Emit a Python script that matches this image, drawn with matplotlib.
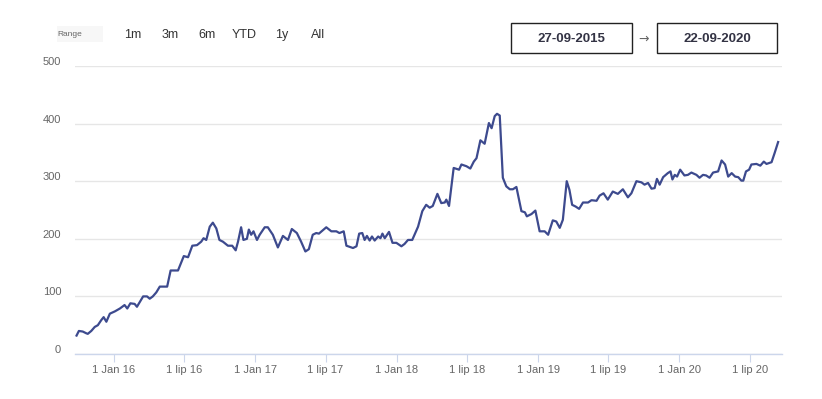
import numpy as np
import pandas as pd
import matplotlib
matplotlib.use('Agg')
import matplotlib.pyplot as plt
from matplotlib.patches import Rectangle
from matplotlib.transforms import ScaledTranslation

plt.rcParams['font.family'] = ['Liberation Sans', 'DejaVu Sans']

# price trace
dates = [
    '2015-09-27', '2015-10-03', '2015-10-13', '2015-10-22', '2015-10-26', '2015-11-04',
    '2015-11-13', '2015-11-21', '2015-11-30', '2015-12-06', '2015-12-13', '2015-12-22',
    '2016-01-04', '2016-01-17', '2016-01-29', '2016-02-05', '2016-02-13', '2016-02-24',
    '2016-03-01', '2016-03-08', '2016-03-17', '2016-03-27', '2016-04-03', '2016-04-11',
    '2016-04-20', '2016-04-29', '2016-05-18', '2016-05-27', '2016-06-15', '2016-06-30',
    '2016-07-11', '2016-07-22', '2016-08-03', '2016-08-14', '2016-08-20', '2016-08-27',
    '2016-09-05', '2016-09-13', '2016-09-22', '2016-09-30', '2016-10-09', '2016-10-22',
    '2016-11-02', '2016-11-11', '2016-11-17', '2016-11-25', '2016-12-01', '2016-12-10',
    '2016-12-15', '2016-12-21', '2016-12-27', '2017-01-05', '2017-01-12', '2017-01-25',
    '2017-02-02', '2017-02-15', '2017-02-28', '2017-03-13', '2017-03-26', '2017-04-05',
    '2017-04-18', '2017-04-29', '2017-05-10', '2017-05-19', '2017-05-29', '2017-06-07',
    '2017-06-14', '2017-07-03', '2017-07-16', '2017-07-29', '2017-08-06', '2017-08-17',
    '2017-08-24', '2017-09-10', '2017-09-19', '2017-09-26', '2017-10-04', '2017-10-10',
    '2017-10-16', '2017-10-23', '2017-10-29', '2017-11-05', '2017-11-14', '2017-11-20',
    '2017-11-25', '2017-12-01', '2017-12-12', '2017-12-21', '2017-12-31', '2018-01-13',
    '2018-01-21', '2018-01-30', '2018-02-10', '2018-02-25', '2018-03-08', '2018-03-18',
    '2018-03-27', '2018-04-04', '2018-04-16', '2018-04-26', '2018-05-05', '2018-05-09',
    '2018-05-16', '2018-05-28', '2018-06-11', '2018-06-17', '2018-06-30', '2018-07-10',
    '2018-07-19', '2018-07-26', '2018-08-05', '2018-08-16', '2018-08-27', '2018-09-03',
    '2018-09-11', '2018-09-17', '2018-09-24', '2018-10-02', '2018-10-11', '2018-10-20',
    '2018-10-28', '2018-11-06', '2018-11-19', '2018-11-28', '2018-12-03', '2018-12-15',
    '2018-12-25', '2019-01-05', '2019-01-18', '2019-01-27', '2019-02-08', '2019-02-17',
    '2019-02-26', '2019-03-06', '2019-03-16', '2019-03-23', '2019-03-30', '2019-04-08',
    '2019-04-17', '2019-04-27', '2019-05-10', '2019-05-19', '2019-06-01', '2019-06-09',
    '2019-06-19', '2019-06-30', '2019-07-13', '2019-07-26', '2019-08-08', '2019-08-21',
    '2019-08-30', '2019-09-12', '2019-09-25', '2019-10-03', '2019-10-12', '2019-10-21',
    '2019-10-29', '2019-11-04', '2019-11-11', '2019-11-20', '2019-12-02', '2019-12-09',
    '2019-12-14', '2019-12-20', '2019-12-26', '2020-01-03', '2020-01-14', '2020-01-23',
    '2020-02-01', '2020-02-14', '2020-02-22', '2020-03-02', '2020-03-10', '2020-03-19',
    '2020-03-28', '2020-04-10', '2020-04-19', '2020-04-28', '2020-05-06', '2020-05-15',
    '2020-05-24', '2020-06-01', '2020-06-09', '2020-06-14', '2020-06-21', '2020-06-29',
    '2020-07-05', '2020-07-18', '2020-07-28', '2020-08-06', '2020-08-13', '2020-08-26',
    '2020-09-03', '2020-09-12',
]
values = [
    32, 40, 39, 36, 35, 40,
    47, 50, 59, 64, 56, 70,
    74, 79, 85, 79, 88, 87,
    82, 90, 100, 100, 96, 100,
    107, 117, 117, 145, 145, 170,
    168, 188, 189, 195, 201, 198,
    221, 228, 218, 198, 195, 188,
    188, 180, 195, 220, 198, 200,
    216, 207, 213, 198, 207, 220,
    220, 207, 185, 205, 198, 217,
    210, 195, 178, 182, 207, 210,
    209, 220, 213, 213, 210, 213,
    188, 184, 187, 209, 210, 198,
    205, 197, 204, 197, 204, 201,
    209, 201, 212, 193, 193, 187,
    191, 198, 198, 221, 248, 259,
    254, 257, 278, 262, 263, 268,
    257, 323, 320, 329, 326, 322,
    334, 340, 371, 365, 401, 392,
    413, 417, 414, 306, 291, 286,
    286, 290, 248, 246, 239, 243,
    249, 213, 213, 207, 232, 230,
    219, 233, 300, 285, 259, 256,
    252, 263, 263, 267, 266, 275,
    279, 268, 282, 278, 286, 272,
    279, 300, 298, 294, 297, 287,
    288, 304, 294, 307, 314, 317,
    303, 311, 308, 320, 310, 311,
    315, 311, 306, 311, 310, 306,
    315, 317, 336, 329, 308, 314,
    308, 307, 301, 301, 317, 320,
    329, 330, 327, 334, 330, 333,
    349, 368,
]
tick_dates = ['2016-01-01', '2016-07-01', '2017-01-01', '2017-07-01', '2018-01-01',
              '2018-07-01', '2019-01-01', '2019-07-01', '2020-01-01', '2020-07-01']
tick_labels = ['1 Jan 16', '1 lip 16', '1 Jan 17', '1 lip 17', '1 Jan 18',
               '1 lip 18', '1 Jan 19', '1 lip 19', '1 Jan 20', '1 lip 20']
range_buttons = ['1m', '3m', '6m', 'YTD', '1y', 'All']
date_from = '27-09-2015'
date_to = '22-09-2020'

W, H = 822, 399
fig = plt.figure(figsize=(W / 100, H / 100), dpi=100)
ax = fig.add_axes([75 / W, (H - 354) / H, (782 - 75) / W, 288 / H])

x = pd.to_datetime(dates)
ax.plot(x, values, color='#3d4a8e', lw=1.6, solid_joinstyle='round')

ax.set_ylim(0, 500)
ax.set_xlim(pd.Timestamp('2015-09-23'), pd.Timestamp('2020-09-22'))
ax.set_yticks([0, 100, 200, 300, 400, 500])
ax.grid(axis='y', color='#e6e6e6', lw=1)
ax.set_axisbelow(True)
for s in ['top', 'right', 'left']:
    ax.spines[s].set_visible(False)
ax.spines['bottom'].set_color('#ccd6eb')
ax.spines['bottom'].set_linewidth(1)

ax.set_xticks(pd.to_datetime(tick_dates))
ax.set_xticklabels(tick_labels)
ax.tick_params(axis='x', length=6, color='#ccd6eb', labelsize=8, labelcolor='#666666', pad=2)
ax.tick_params(axis='y', length=0, labelsize=8, labelcolor='#666666', pad=10)
for lab in ax.get_yticklabels():
    lab.set_transform(lab.get_transform() + ScaledTranslation(0, 5 / 100, fig.dpi_scale_trans))

# range selector
fig.patches.append(Rectangle((57 / W, 1 - 42 / H), 46 / W, 16 / H, transform=fig.transFigure,
                             facecolor='#f7f7f7', edgecolor='none'))
fig.text(57 / W, 1 - 34 / H, 'Range', fontsize=6, color='#666666', va='center', ha='left')
for lab, xp in zip(range_buttons, [133, 170, 207, 244, 282, 318]):
    fig.text(xp / W, 1 - 35 / H, lab, fontsize=9, color='#333333', va='center', ha='center')

# date inputs
for (x0, x1), txt in zip([(511, 632), (657, 777)], [date_from, date_to]):
    fig.patches.append(Rectangle((x0 / W, 1 - 53 / H), (x1 - x0) / W, 30 / H,
                                 transform=fig.transFigure, facecolor='white',
                                 edgecolor='#222222', lw=1))
    fig.text((x0 + x1) / 2 / W, 1 - 39 / H, txt, fontsize=9.5, fontweight='bold',
             color='#333344', ha='center', va='center')
fig.text(644 / W, 1 - 39 / H, '→', fontsize=9, color='#666666', ha='center', va='center',
         family=['DejaVu Sans'])

fig.savefig('out.png', dpi=100)
